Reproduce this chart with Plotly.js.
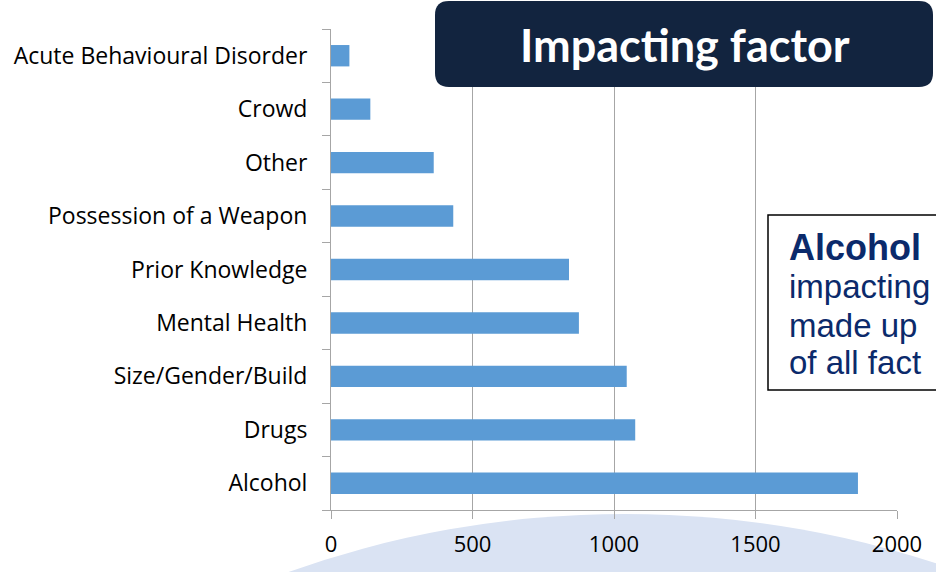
<!DOCTYPE html>
<html>
<head>
<meta charset="utf-8">
<script src="https://cdn.plot.ly/plotly-3.0.1.min.js"></script>
<style>
  html, body { margin: 0; padding: 0; background: #ffffff; }
  #chart { width: 936px; height: 572px; }
</style>
</head>
<body>
<div id="chart"></div>
<script>
// ---- data ----
const categories = [
  "Alcohol",
  "Drugs",
  "Size/Gender/Build",
  "Mental Health",
  "Prior Knowledge",
  "Possession of a Weapon",
  "Other",
  "Crowd",
  "Acute Behavioural Disorder"
];
const counts = [1862, 1075, 1045, 876, 841, 432, 363, 139, 65];
const xTickValues = [0, 500, 1000, 1500, 2000];
const xTickLabels = ["0", "500", "1000", "1500", "2000"];
const titleText = "Impacting factor";
const calloutLines = ["<b>Alcohol</b>", "impacting", "made up", "of all fact"];

// ---- layout geometry (pixels) ----
const W = 936, H = 572;
const M = { l: 331, r: 39, t: 29, b: 62 };
const PW = W - M.l - M.r, PH = H - M.t - M.b;
const px = x => (x - M.l) / PW;           // pixel x -> paper x
const py = y => (H - M.b - y) / PH;       // pixel y -> paper y

function roundRectPath(x0, y0, x1, y1, r) {
  const P = (x, y) => px(x).toFixed(5) + "," + py(y).toFixed(5);
  return "M" + P(x0 + r, y0) +
    " L" + P(x1 - r, y0) +
    " Q" + P(x1, y0) + " " + P(x1, y0 + r) +
    " L" + P(x1, y1 - r) +
    " Q" + P(x1, y1) + " " + P(x1 - r, y1) +
    " L" + P(x0 + r, y1) +
    " Q" + P(x0, y1) + " " + P(x0, y1 - r) +
    " L" + P(x0, y0 + r) +
    " Q" + P(x0, y0) + " " + P(x0 + r, y0) + " Z";
}

const yTickFont = { family: "'Open Sans', Lato, sans-serif", size: 23, color: "#000000" };
const xTickFont = { family: "'Open Sans', Lato, sans-serif", size: 22, color: "#000000" };

const trace = {
  type: "bar",
  orientation: "h",
  x: counts,
  y: categories,
  marker: { color: "#5b9bd5", line: { width: 0 } },
  hoverinfo: "x+y"
};

const shapes = [
  // light blue ellipse at the bottom
  {
    type: "circle", xref: "paper", yref: "paper", layer: "below",
    x0: px(-275), x1: px(1525), y0: py(514), y1: py(2114),
    fillcolor: "#dae3f3", line: { width: 0 }
  },
  // title box
  {
    type: "path", xref: "paper", yref: "paper", layer: "above",
    path: roundRectPath(435, 1, 933, 87, 14),
    fillcolor: "#12243f", line: { width: 0 }
  },
  // callout box
  {
    type: "rect", xref: "paper", yref: "paper", layer: "above",
    x0: px(768), x1: px(960), y0: py(215), y1: py(390),
    fillcolor: "#ffffff", line: { color: "#000000", width: 1.5 }
  }
];

const annotations = [
  {
    xref: "paper", yref: "paper", x: px(685), y: py(45),
    xanchor: "center", yanchor: "middle", showarrow: false,
    text: "<b>" + titleText + "</b>",
    font: { family: "Lato, 'Open Sans', sans-serif", size: 45, color: "#ffffff" }
  }
];
const lineY = [248, 287, 325, 363];
const lineSize = [36, 33, 33, 33];
calloutLines.forEach((t, i) => {
  annotations.push({
    xref: "paper", yref: "paper", x: px(787), y: py(lineY[i]),
    xanchor: "left", yanchor: "middle", showarrow: false, align: "left",
    text: t,
    font: { family: "'Liberation Sans', Arial, sans-serif", size: lineSize[i], color: "#0b2a6b" }
  });
});

const layout = {
  width: W, height: H,
  margin: M,
  paper_bgcolor: "#ffffff",
  plot_bgcolor: "rgba(0,0,0,0)",
  showlegend: false,
  bargap: 0.6,
  xaxis: {
    range: [0, 2000],
    tickvals: xTickValues,
    ticktext: xTickLabels,
    showgrid: true, gridcolor: "#a6a6a6", gridwidth: 1,
    zeroline: false,
    showline: true, linecolor: "#a6a6a6", linewidth: 1,
    ticks: "outside", ticklen: 8, tickcolor: "#a6a6a6", tickwidth: 1,
    ticklabelstandoff: 7,
    tickfont: xTickFont,
    fixedrange: true
  },
  yaxis: {
    type: "category",
    categoryorder: "array", categoryarray: categories,
    showgrid: false, zeroline: false,
    showline: true, linecolor: "#a6a6a6", linewidth: 1,
    ticks: "outside", ticklen: 8, tickcolor: "#a6a6a6", tickwidth: 1,
    tickson: "boundaries",
    ticklabelstandoff: 18,
    tickfont: yTickFont,
    fixedrange: true
  },
  shapes: shapes,
  annotations: annotations
};

Plotly.newPlot("chart", [trace], layout, { displayModeBar: false, staticPlot: true });
</script>
</body>
</html>
